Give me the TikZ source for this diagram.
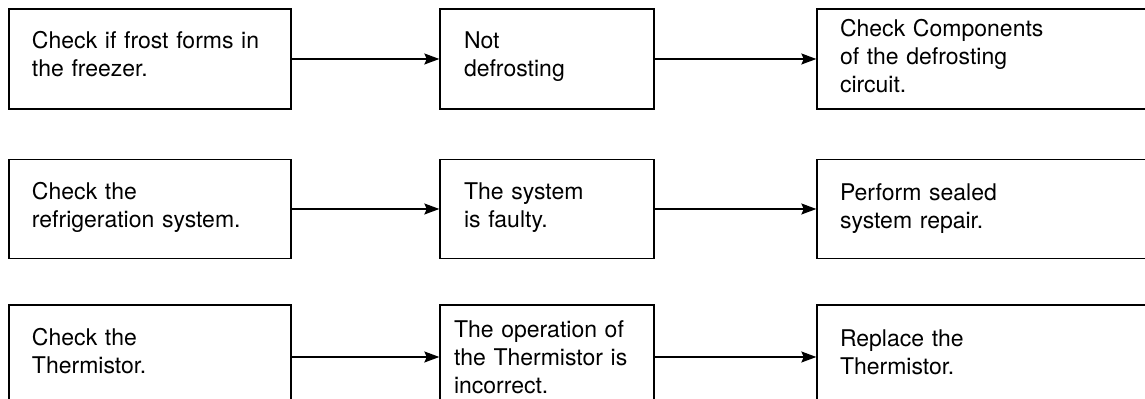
\documentclass[tikz,border=0pt]{standalone}
\usepackage{fontspec}
\setmainfont{TeX Gyre Heros}
\usetikzlibrary{arrows.meta}

% extra depth below the last line, lifts the text in its box
\newcommand{\lift}[1]{\rule[-#1]{0pt}{#1}}

\tikzset{
  box/.style={draw, line width=0.65pt, rectangle, inner ysep=0pt, align=left,
    font=\fontsize{11.5}{14}\selectfont, anchor=center},
  colA/.style={box, minimum width=141pt, text width=118pt, inner xsep=11.5pt},
  colB/.style={box, minimum width=107pt, text width=83pt, inner xsep=12pt},
  colC/.style={box, minimum width=170pt, text width=147pt, inner xsep=11.5pt},
  flow/.style={line width=0.7pt, -{Stealth[length=7.5pt,width=5.5pt,inset=1.2pt]}}
}

\begin{document}
\begin{tikzpicture}[x=0.5pt, y=-0.5pt]
    \useasboundingbox (0,0) rectangle (1145,399);
    \clip (0,0) rectangle (1145,399);

    % Row 1: frost
    \node[colA, minimum height=50pt] (chk1) at (150,59) {Check if frost forms in\\the freezer.\lift{5pt}};
    \node[colB, minimum height=50pt] (res1) at (547,59) {Not\\defrosting\lift{5pt}};
    \node[colC, minimum height=50pt] (act1) at (987,59) {Check Components\\of the defrosting\\circuit.\lift{3.5pt}};

    % Row 2: refrigeration system
    \node[colA, minimum height=49.5pt] (chk2) at (150,209) {Check the\\refrigeration system.\lift{4pt}};
    \node[colB, minimum height=49.5pt] (res2) at (547,209) {The system\\is faulty.\lift{4pt}};
    \node[colC, minimum height=49.5pt] (act2) at (987,209) {Perform sealed\\system repair.};

    % Row 3: thermistor
    \node[colA, minimum height=52pt] (chk3) at (150,357) {Check the\\Thermistor.\lift{6.5pt}};
    \node[colB, minimum height=52pt, text width=93pt, inner xsep=7pt] (res3) at (547,357) {The operation of\\the Thermistor is\\incorrect.};
    \node[colC, minimum height=52pt] (act3) at (987,357) {Replace the\\Thermistor.\lift{4.5pt}};

    % Arrows
    \draw[flow] (chk1) -- (res1);
    \draw[flow] (res1) -- (act1);
    \draw[flow] (chk2) -- (res2);
    \draw[flow] (res2) -- (act2);
    \draw[flow] (chk3) -- (res3);
    \draw[flow] (res3) -- (act3);
\end{tikzpicture}
\end{document}
